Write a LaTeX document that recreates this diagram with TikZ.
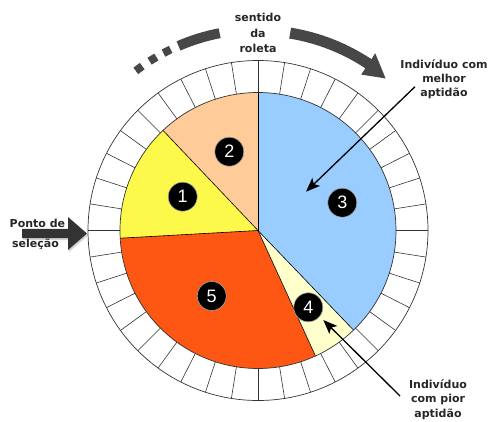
\documentclass[tikz,border=0pt]{standalone}
\usepackage{fontspec}
\setmainfont{DejaVu Sans}
\newfontfamily\digitfont{Liberation Sans}
\usetikzlibrary{arrows.meta,shadows}

\definecolor{sliceblue}{HTML}{99CCFF}
\definecolor{slicepeach}{HTML}{FFCC99}
\definecolor{sliceyellow}{HTML}{FCF94B}
\definecolor{sliceorange}{HTML}{FD5713}
\definecolor{slicepale}{HTML}{FFFFCC}
\definecolor{spingray}{HTML}{474747}
\definecolor{pointgray}{HTML}{333333}

\begin{document}
\begin{tikzpicture}[x=1pt,y=1pt,
  caption/.style={font=\fontsize{11}{14.5}\selectfont\bfseries, align=center, inner sep=0pt, text=black!85},
  badge/.style={circle, fill=black, draw=black!35, line width=0.6pt, minimum size=29pt, inner sep=0pt,
                text=white, font=\digitfont\fontsize{18}{18}\selectfont},
  pointer/.style={line width=1.3pt, -{Stealth[length=14pt,width=11pt,inset=3pt]}},
  spoke/.style={line width=0.6pt, draw=black!80},
  rim/.style={line width=0.7pt, draw=black!80},
  sliceline/.style={line width=0.6pt, draw=black},
]
\useasboundingbox (0,0) rectangle (490,421);

\coordinate (C) at (258,190.5);

\begin{scope}[shift={(C)}]
  % roulette slices (angles counter-clockwise from the x axis)
  \fill[slicepeach]  (0,0) -- (90:138)    arc[start angle=90,    end angle=133.5, radius=138pt] -- cycle;
  \fill[sliceyellow] (0,0) -- (133.5:138) arc[start angle=133.5, end angle=183.2, radius=138pt] -- cycle;
  \fill[sliceorange] (0,0) -- (183.2:138) arc[start angle=183.2, end angle=294.6, radius=138pt] -- cycle;
  \fill[slicepale]   (0,0) -- (294.6:138) arc[start angle=294.6, end angle=313.8, radius=138pt] -- cycle;
  \fill[sliceblue]   (0,0) -- (-46.2:138) arc[start angle=-46.2,  end angle=90,    radius=138pt] -- cycle;
  \foreach \a in {90,133.5,183.2,294.6,313.8}
    \draw[sliceline] (0,0) -- (\a:138);

  % outer ring with 40 cells
  \draw[rim] (0,0) circle[radius=138pt];
  \draw[rim] (0,0) circle[radius=170pt];
  \foreach \a in {0,9,...,351}
    \draw[spoke] (\a:138) -- (\a:170);

  % spinning direction arrow
  \draw[spingray, line width=10pt] (113.3:201) arc[start angle=113.3, end angle=101, radius=201pt];
  \foreach \a [count=\i] in {116.9,121.5,126.3}
    \node[name=dot\i, fill=spingray, minimum size=8pt, inner sep=0pt, rotate=\a-90] at (\a:201) {};
  \draw[spingray, line width=11pt] (80.75:200) arc[start angle=80.75, end angle=56, radius=200pt];
  \fill[spingray] (56.5:187) -- (56.5:212.5) -- (50:198.5) -- cycle;
\end{scope}

% numbered markers
\node[badge] (b1) at (182.7,224.3) {1};
\node[badge] (b2) at (229.3,269.3) {2};
\node[badge] (b3) at (342.3,218.3) {3};
\node[badge] (b4) at (308.3,113.7) {4};
\node[badge] (b5) at (211.7,125)   {5};

% selection pointer
\fill[pointgray, drop shadow={opacity=0.35, shadow xshift=1pt, shadow yshift=-2pt}]
  (22,182.8) -- (68,182.8) -- (68,171) -- (87,187.5) -- (68,204) -- (68,192.2) -- (22,192.2) -- cycle;
\node[caption, anchor=west] (ponto) at (9.5,197.7) {Ponto de};
\node[caption, anchor=west] (selecao) at (12,176.7) {seleção};

% captions
\node[caption, font=\fontsize{11}{15.5}\selectfont\bfseries] (sentido) at (258,388) {sentido\\da\\roleta};
\node[caption, font=\fontsize{11}{14.2}\selectfont\bfseries] (melhor) at (444,341.7) {Indivíduo com\\melhor\\aptidão};
\node[caption, font=\fontsize{11}{14.5}\selectfont\bfseries] (pior) at (438,21.5) {Indivíduo\\com pior\\aptidão};

% pointers to the best and the worst individual
\coordinate (bestFrom) at (415,334.3);
\coordinate (bestTo) at (306,229.3);
\coordinate (worstFrom) at (400,25);
\coordinate (worstTo) at (323.3,101);
\draw[pointer] (bestFrom) -- (bestTo);
\draw[pointer] (worstFrom) -- (worstTo);
\end{tikzpicture}
\end{document}
